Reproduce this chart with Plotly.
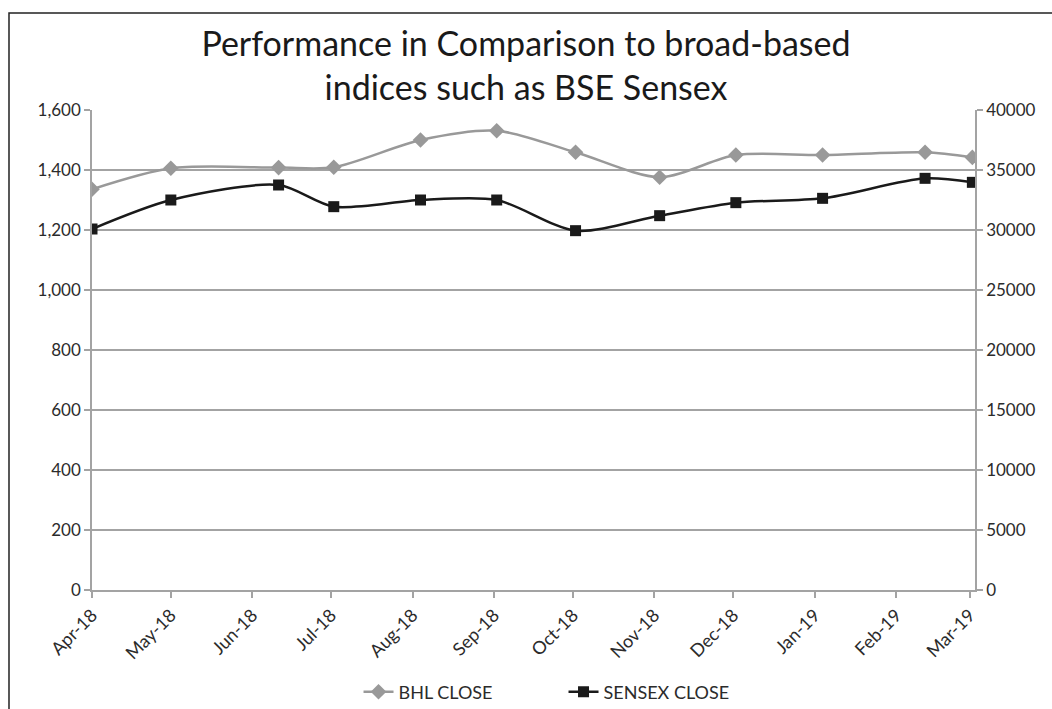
import plotly.graph_objects as go

dates = ["2018-04-01", "2018-05-01", "2018-06-11", "2018-07-02", "2018-08-04", "2018-09-02",
         "2018-10-02", "2018-11-03", "2018-12-02", "2019-01-04", "2019-02-12", "2019-03-02"]
bhl_close = [1336, 1406, 1408, 1409, 1500, 1531, 1459, 1376, 1450, 1450, 1459, 1442]
sensex_close = [30083, 32500, 33750, 31944, 32500, 32500, 29944, 31194, 32278, 32639, 34306, 33972]

left_ticks = [0, 200, 400, 600, 800, 1000, 1200, 1400, 1600]
right_ticks = [0, 5000, 10000, 15000, 20000, 25000, 30000, 35000, 40000]

FONT = "Lato"
GRID = "#a3a3a3"
TXT = "#2b2b2b"

fig = go.Figure()
fig.add_trace(go.Scatter(
    x=dates, y=bhl_close, name="BHL CLOSE", mode="lines+markers",
    line=dict(color="#999999", width=2.5, shape="spline", smoothing=0.8),
    marker=dict(symbol="diamond", size=12, color="#999999"),
    yaxis="y"))
fig.add_trace(go.Scatter(
    x=dates, y=sensex_close, name="SENSEX CLOSE", mode="lines+markers",
    line=dict(color="#1a1a1a", width=2.5, shape="spline", smoothing=0.8),
    marker=dict(symbol="square", size=11, color="#1a1a1a"),
    yaxis="y2"))

fig.update_layout(
    width=1052, height=709,
    paper_bgcolor="white", plot_bgcolor="white",
    margin=dict(l=92, r=77, t=110, b=119, autoexpand=False),
    font=dict(family=FONT, size=16, color=TXT),
    title=dict(text="Performance in Comparison to broad-based<br>indices such as BSE Sensex",
               x=0.5, xanchor="center", y=0.921, yanchor="top",
               font=dict(family=FONT, size=34, color="#1a1a1a")),
    xaxis=dict(type="date", range=["2018-04-01", "2019-03-03"], automargin=False,
               tick0="2018-04-01", dtick="M1", tickformat="%b-%y", tickangle=-45,
               showgrid=False, showline=True, linecolor=GRID, linewidth=1.5,
               ticks="outside", ticklen=6, tickcolor=GRID, tickwidth=1.5,
               tickfont=dict(size=18, color=TXT)),
    yaxis=dict(range=[0, 1600], tickvals=left_ticks, tickformat=",d", automargin=False,
               showgrid=True, gridcolor=GRID, gridwidth=1.5,
               showline=True, linecolor=GRID, linewidth=1.5,
               ticks="outside", ticklen=6, tickcolor=GRID, tickwidth=1.5,
               zeroline=False, tickfont=dict(size=17, color=TXT)),
    yaxis2=dict(range=[0, 40000], tickvals=right_ticks, overlaying="y", side="right",
                automargin=False,
                showgrid=False, showline=True, linecolor=GRID, linewidth=1.5,
                ticks="outside", ticklen=6, tickcolor=GRID, tickwidth=1.5,
                zeroline=False, tickformat="d", tickfont=dict(size=17, color=TXT)),
    legend=dict(orientation="h", x=0.534, xanchor="center", y=-0.2125, yanchor="middle",
                font=dict(size=18, color=TXT), entrywidth=160, traceorder="normal"),
    showlegend=True,
    shapes=[dict(type="rect", xref="paper", yref="paper", x0=-0.094, x1=1.3, y0=-0.5, y1=1.202,
                 line=dict(color="#222222", width=1.5), fillcolor="rgba(0,0,0,0)", layer="below")],
)

fig.write_html("out.html", config={"displayModeBar": False},
               post_script="document.body.style.margin='0';document.body.style.overflow='hidden';")
